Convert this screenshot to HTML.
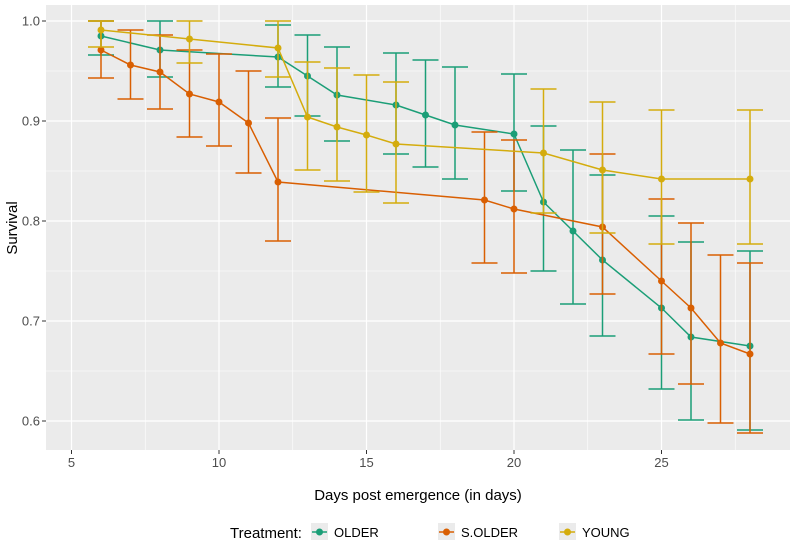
<!DOCTYPE html>
<html><head><meta charset="utf-8"><style>
body{margin:0;background:#fff;font-family:"Liberation Sans",sans-serif}
</style></head><body>
<svg id="c" width="797" height="547" font-family="Liberation Sans, sans-serif"></svg>
<script>
const days = {OLDER:[6,8,12,13,14,16,17,18,20,21,22,23,25,26,28],
 "S.OLDER":[6,7,8,9,10,11,12,19,20,23,25,26,27,28],
 YOUNG:[6,9,12,13,14,15,16,21,23,25,28]};
const olderVal=[.985,.971,.964,.945,.926,.916,.906,.896,.887,.819,.790,.761,.713,.684,.675];
const olderLo=[.966,.944,.934,.905,.880,.867,.854,.842,.830,.750,.717,.685,.632,.601,.591];
const olderHi=[1.0,1.0,.996,.986,.974,.968,.961,.954,.947,.895,.871,.846,.805,.779,.770];
const solderVal=[.971,.956,.949,.927,.919,.898,.839,.821,.812,.794,.740,.713,.678,.667];
const solderLo=[.943,.922,.912,.884,.875,.848,.780,.758,.748,.727,.667,.637,.598,.588];
const solderHi=[1.0,.991,.986,.971,.967,.950,.903,.889,.881,.867,.822,.798,.766,.758];
const youngVal=[.991,.982,.973,.904,.894,.886,.877,.868,.851,.842,.842];
const youngLo=[.974,.958,.944,.851,.840,.829,.818,.808,.788,.777,.777];
const youngHi=[1.0,1.0,1.0,.959,.953,.946,.939,.932,.919,.911,.911];
const xTicks=[5,10,15,20,25];
const yTicks=[0.6,0.7,0.8,0.9,1.0];
const NS="http://www.w3.org/2000/svg";
const svg=document.getElementById('c');
const X=d=>101+(d-6)*29.5, Y=v=>21+(1-v)*1000;
const L=46,R=790,T=5,B=450;
function el(t,a,p){const e=document.createElementNS(NS,t);for(const k in a)e.setAttribute(k,a[k]);(p||svg).appendChild(e);return e;}
const bg=el('rect',{x:L,y:T,width:R-L,height:B-T,fill:'#EBEBEB'});


for(let i=0;i<yTicks.length-1;i++){const v=(yTicks[i]+yTicks[i+1])/2;el('line',{x1:L,x2:R,y1:Y(v),y2:Y(v),stroke:'#fff','stroke-width':0.6});}
for(let i=0;i<xTicks.length;i++){const d=xTicks[i]+2.5;if(X(d)<R)el('line',{x1:X(d),x2:X(d),y1:T,y2:B,stroke:'#fff','stroke-width':0.6});}
yTicks.forEach(v=>{el('line',{x1:L,x2:R,y1:Y(v),y2:Y(v),stroke:'#fff','stroke-width':1.2});el('line',{x1:42,x2:46,y1:Y(v),y2:Y(v),stroke:'#333'});
 const t=el('text',{x:40,y:Y(v)+4.5,'text-anchor':'end','font-size':13,fill:'#4d4d4d'});t.textContent=v.toFixed(1);
 
 });
xTicks.forEach(d=>{el('line',{x1:X(d),x2:X(d),y1:T,y2:B,stroke:'#fff','stroke-width':1.2});el('line',{x1:X(d),x2:X(d),y1:B,y2:B+4,stroke:'#333'});
 const t=el('text',{x:X(d),y:B+17,'text-anchor':'middle','font-size':13,fill:'#4d4d4d'});t.textContent=d;
 
 });
const series=[["OLDER",olderVal,olderLo,olderHi,"#1B9E77"],["S.OLDER",solderVal,solderLo,solderHi,"#D95F02"],["YOUNG",youngVal,youngLo,youngHi,"#D4AC0D"]];
series.forEach(([name,v,lo,hi,col])=>{
 const g=el('g',{});
 
 
 const ds=days[name];
 ds.forEach((d,i)=>{const x=X(d);
  el('line',{x1:x,x2:x,y1:Y(hi[i]),y2:Y(lo[i]),stroke:col,'stroke-width':1.5},g);
  el('line',{x1:x-13,x2:x+13,y1:Y(hi[i]),y2:Y(hi[i]),stroke:col,'stroke-width':1.5},g);
  el('line',{x1:x-13,x2:x+13,y1:Y(lo[i]),y2:Y(lo[i]),stroke:col,'stroke-width':1.5},g);});
 el('polyline',{points:ds.map((d,i)=>X(d)+','+Y(v[i])).join(' '),fill:'none',stroke:col,'stroke-width':1.5},g);
 ds.forEach((d,i)=>{const c=el('circle',{cx:X(d),cy:Y(v[i]),r:3.5,fill:col},g);
  
  });
});
const xt=el('text',{x:(L+R)/2,y:500,'text-anchor':'middle','font-size':15,fill:'#000'});xt.textContent='Days post emergence (in days)';


const yt=el('text',{x:0,y:0,transform:'translate(17,228) rotate(-90)','text-anchor':'middle','font-size':15,fill:'#000'});yt.textContent='Survival';


const lt=el('text',{x:230,y:538,'font-size':15,fill:'#000'});lt.textContent='Treatment:';


const lx=[311,438,559];
series.forEach(([name,,, ,col],i)=>{const g=el('g',{});
 
 
 el('rect',{x:lx[i],y:523,width:17,height:17,fill:'#EBEBEB'},g);
 el('line',{x1:lx[i]+1,x2:lx[i]+16,y1:532,y2:532,stroke:col,'stroke-width':1.5},g);
 el('circle',{cx:lx[i]+8.5,cy:532,r:3.5,fill:col},g);
 const t=el('text',{x:lx[i]+23,y:537,'font-size':13,fill:'#000'},g);t.textContent=name;});
</script>
</body></html>
